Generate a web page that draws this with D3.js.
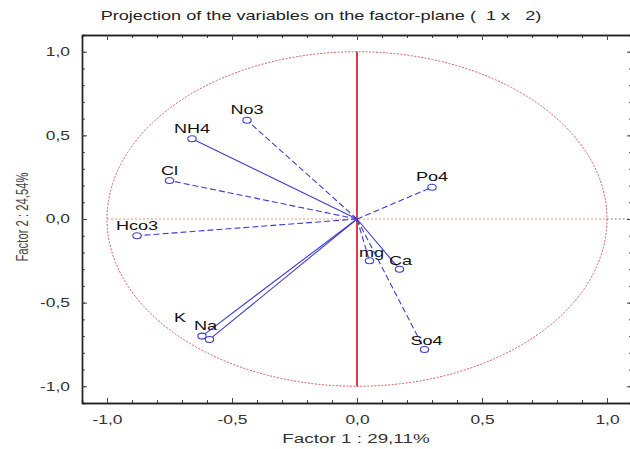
<!DOCTYPE html>
<html>
<head>
<meta charset="utf-8">
<script src="https://cdn.jsdelivr.net/npm/d3@7"></script>
<style>
    body { margin: 0; background: #fff; }
    svg { display: block; font-family: "Liberation Sans", Arial, sans-serif; }
</style>
</head>
<body>
<svg id="chart" width="630" height="449"></svg>
<script>
// variable loadings on factor 1 and factor 2
const variables = ["No3", "NH4", "Cl", "Hco3", "Po4", "mg", "Ca", "So4", "K", "Na"];
const factor1 = [-0.44, -0.66, -0.75, -0.88, 0.30, 0.05, 0.17, 0.27, -0.62, -0.59];
const factor2 = [0.59, 0.48, 0.23, -0.10, 0.19, -0.25, -0.30, -0.78, -0.70, -0.72];

const majorTicks = [-1.0, -0.5, 0.0, 0.5, 1.0];
const minorTicks = d3.range(-10, 11).map(d => d / 10);

const title = "Projection of the variables on the factor-plane (  1 x   2)";
const xTitle = "Factor 1 : 29,11%";
const yTitle = "Factor 2 : 24,54%";

const svg = d3.select("#chart");
const blue = "#3d3dd2";
const stretch = 1.45; // the original picture is wider than tall, text looks stretched

const x = d3.scaleLinear().domain([-1.1, 1.1]).range([82, 632]);
const y = d3.scaleLinear().domain([-1.1, 1.1]).range([403, 35]);

// comma decimal, plain hyphen minus
const fmt = d3.formatLocale({decimal: ",", thousands: ".", grouping: [3], currency: ["", ""], minus: "-"}).format(".1f");

//title
svg.append("text")
    .attr("transform", `translate(321,20) scale(${stretch},1)`)
    .attr("text-anchor", "middle")
    .attr("font-size", 12.5)
    .attr("fill", "#222")
    .style("white-space", "pre")
    .text(title);

//unit circle and the zero lines
const plot = svg.append("g");

plot.append("ellipse")
    .attr("cx", x(0)).attr("cy", y(0))
    .attr("rx", x(1) - x(0)).attr("ry", y(0) - y(1))
    .attr("fill", "none")
    .attr("stroke", "#d65a5a")
    .attr("stroke-width", 1)
    .attr("stroke-dasharray", "2,1.5");

plot.append("line")
    .attr("x1", x(-1)).attr("x2", x(1))
    .attr("y1", y(0)).attr("y2", y(0))
    .attr("stroke", "#e49a7e")
    .attr("stroke-dasharray", "2,2");

plot.append("line")
    .attr("x1", x(1)).attr("x2", x(1.1))
    .attr("y1", y(0)).attr("y2", y(0))
    .attr("stroke", "#666")
    .attr("stroke-dasharray", "1.5,2.5");

plot.append("line")
    .attr("x1", x(0)).attr("x2", x(0))
    .attr("y1", y(1)).attr("y2", y(-1))
    .attr("stroke", "#cc1020")
    .attr("stroke-width", 1.6);

//axes: ticks pointing into the frame
const axisStyle = g => {
    g.select(".domain").attr("stroke", "#222").attr("stroke-width", 1.4);
    g.selectAll(".tick line").attr("stroke", "#444");
    g.selectAll(".tick text")
        .attr("fill", "#333")
        .attr("font-size", 12)
        .attr("x", function() { return (+this.getAttribute("x") || 0) / stretch; })
        .attr("transform", `scale(${stretch},1)`);
};

function addAxis(axisFn, scale, transform, labels) {
    svg.append("g")
        .attr("transform", transform)
        .call(axisFn(scale).tickValues(minorTicks).tickSize(-3).tickFormat(""))
        .call(axisStyle);
    const major = svg.append("g")
        .attr("transform", transform)
        .call(axisFn(scale).tickValues(majorTicks).tickSizeInner(-5).tickSizeOuter(0)
            .tickPadding(labels ? 12 : 0).tickFormat(labels ? fmt : ""))
        .call(axisStyle);
    return major;
}

addAxis(d3.axisBottom, x, `translate(0,${y(-1.1)})`, true);
addAxis(d3.axisTop, x, `translate(0,${y(1.1)})`, false);
addAxis(d3.axisLeft, y, `translate(${x(-1.1)},0)`, true);
addAxis(d3.axisRight, y, `translate(${x(1.1)},0)`, false);

//axis titles
svg.append("text")
    .attr("transform", `translate(356,443) scale(${stretch},1)`)
    .attr("text-anchor", "middle")
    .attr("font-size", 13)
    .attr("fill", "#333")
    .text(xTitle);

svg.append("text")
    .attr("transform", `translate(28,217) scale(${stretch},1) rotate(-90)`)
    .attr("text-anchor", "middle")
    .attr("font-size", 11.3)
    .attr("fill", "#444")
    .text(yTitle);

//vectors
const rows = variables.map((name, i) => ({name, f1: factor1[i], f2: factor2[i]}));
const dashedVars = new Set(["No3", "Cl", "Hco3", "Po4", "So4", "mg"]);
const labelShift = {K: [-22, -14], Na: [-4, -9], mg: [2, -4], Ca: [1, -4], So4: [2, -4]};

const vec = svg.append("g").selectAll("g")
    .data(rows)
    .join("g");

vec.append("line")
    .attr("x1", x(0)).attr("y1", y(0))
    .attr("x2", d => x(d.f1)).attr("y2", d => y(d.f2))
    .attr("stroke", blue)
    .attr("stroke-width", 1.1)
    .attr("stroke-dasharray", d => dashedVars.has(d.name) ? "6,3" : null);

vec.append("ellipse")
    .attr("cx", d => x(d.f1)).attr("cy", d => y(d.f2))
    .attr("rx", 4.2).attr("ry", 3)
    .attr("fill", "#fff")
    .attr("stroke", blue)
    .attr("stroke-width", 1.1);

vec.append("text")
    .attr("transform", d => {
        const s = labelShift[d.name] || [0, -6];
        return `translate(${x(d.f1) + s[0]},${y(d.f2) + s[1]}) scale(${stretch},1)`;
    })
    .attr("text-anchor", "middle")
    .attr("font-size", 12.5)
    .attr("fill", "#111")
    .text(d => d.name);
</script>
</body>
</html>
